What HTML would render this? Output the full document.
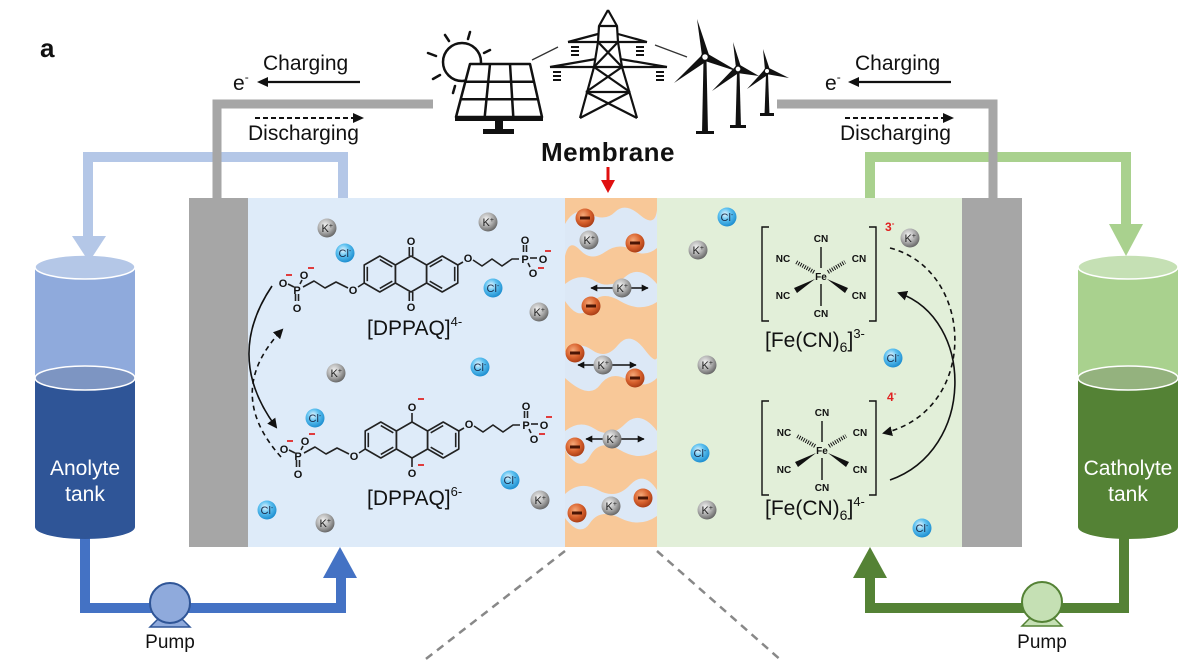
<!DOCTYPE html>
<html><head><meta charset="utf-8"><style>
html,body{margin:0;padding:0;background:#fff;}
svg{display:block;}
text{font-family:"Liberation Sans",Arial,sans-serif;}
.ik{font-size:11px;fill:#222;}
.icl{font-size:11px;fill:#1a2b4a;}
.at{font-size:11px;fill:#111;font-weight:bold;}
.cn{font-size:10px;font-weight:bold;fill:#111;text-anchor:middle;}
.bond{stroke:#222;stroke-width:1.6;fill:none;stroke-linejoin:round;}
.rm{stroke:#e02828;stroke-width:1.8;}
</style></head><body>
<svg width="1200" height="662" viewBox="0 0 1200 662" xmlns="http://www.w3.org/2000/svg">
<defs>
<radialGradient id="gK" cx="0.4" cy="0.35" r="0.7"><stop offset="0" stop-color="#f2f2f2"/><stop offset="0.5" stop-color="#b3b3b3"/><stop offset="1" stop-color="#5e5e5e"/></radialGradient>
<radialGradient id="gCl" cx="0.4" cy="0.35" r="0.7"><stop offset="0" stop-color="#e4f6ff"/><stop offset="0.45" stop-color="#5cc0f0"/><stop offset="1" stop-color="#1688cc"/></radialGradient>
<radialGradient id="gM" cx="0.4" cy="0.35" r="0.7"><stop offset="0" stop-color="#f5a878"/><stop offset="0.55" stop-color="#d8622e"/><stop offset="1" stop-color="#a33812"/></radialGradient>
<marker id="ah" viewBox="0 0 10 10" refX="8" refY="5" markerWidth="10" markerHeight="10" markerUnits="userSpaceOnUse" orient="auto"><path d="M0,0 L10,5 L0,10 z" fill="#111"/></marker>
<marker id="ah2" viewBox="0 0 10 10" refX="9" refY="5" markerWidth="7" markerHeight="7" markerUnits="userSpaceOnUse" orient="auto-start-reverse"><path d="M0,0 L10,5 L0,10 z" fill="#111"/></marker>
</defs>

<!-- label a -->
<text x="40" y="57" font-size="26" font-weight="bold" fill="#111">a</text>

<!-- charging texts left -->
<text x="263" y="70" font-size="21" fill="#111">Charging</text>
<text x="233" y="90" font-size="21" fill="#111">e<tspan font-size="12" dy="-9">-</tspan></text>
<line x1="360" y1="82" x2="262" y2="82" stroke="#111" stroke-width="2.2"/>
<path d="M257,82 L268,77 L268,87 z" fill="#111"/>
<line x1="255" y1="118" x2="355" y2="118" stroke="#111" stroke-width="2" stroke-dasharray="5,3"/>
<path d="M364,118 L353,113 L353,123 z" fill="#111"/>
<text x="248" y="140" font-size="21" fill="#111">Discharging</text>

<!-- charging texts right -->
<text x="855" y="70" font-size="21" fill="#111">Charging</text>
<text x="825" y="90" font-size="21" fill="#111">e<tspan font-size="12" dy="-9">-</tspan></text>
<line x1="951" y1="82" x2="853" y2="82" stroke="#111" stroke-width="2.2"/>
<path d="M848,82 L859,77 L859,87 z" fill="#111"/>
<line x1="845" y1="118" x2="945" y2="118" stroke="#111" stroke-width="2" stroke-dasharray="5,3"/>
<path d="M954,118 L943,113 L943,123 z" fill="#111"/>
<text x="840" y="140" font-size="21" fill="#111">Discharging</text>

<!-- light pipes -->
<path d="M88,237 L88,157 L343,157 L343,198" stroke="#b4c7e7" stroke-width="10" fill="none"/>
<path d="M870,198 L870,157 L1126,157 L1126,226" stroke="#a9d18e" stroke-width="10" fill="none"/>

<!-- grey wires -->
<path d="M433,104 L217,104 L217,198" stroke="#a6a6a6" stroke-width="9" fill="none"/>
<path d="M777,104 L993,104 L993,198" stroke="#a6a6a6" stroke-width="9" fill="none"/>

<!-- dark pipes -->
<path d="M85,537 L85,608 L341,608 L341,576" stroke="#4472c4" stroke-width="10" fill="none"/>
<path d="M323,578 L357,578 L340,547 z" fill="#4472c4"/>
<path d="M1124,537 L1124,608 L870,608 L870,576" stroke="#548235" stroke-width="10" fill="none"/>
<path d="M853,578 L887,578 L870,547 z" fill="#548235"/>

<!-- left tank -->
<path d="M35,378 L35,527 A50,12 0 0 0 135,527 L135,378 z" fill="#2f5597"/>
<rect x="35" y="267" width="100" height="111" fill="#8faadc"/>
<ellipse cx="85" cy="378" rx="50" ry="12" fill="#7d95c2" stroke="#fff" stroke-width="1.5"/>
<ellipse cx="85" cy="267" rx="50" ry="12" fill="#b4c7e7" stroke="#fff" stroke-width="1.5"/>
<path d="M72,236 L106,236 L89,262 z" fill="#b4c7e7"/>
<text x="85" y="475" font-size="21" fill="#fff" text-anchor="middle">Anolyte</text>
<text x="85" y="501" font-size="21" fill="#fff" text-anchor="middle">tank</text>

<!-- right tank -->
<path d="M1078,378 L1078,527 A50,12 0 0 0 1178,527 L1178,378 z" fill="#548235"/>
<rect x="1078" y="267" width="100" height="111" fill="#a9d18e"/>
<ellipse cx="1128" cy="378" rx="50" ry="12" fill="#94b27e" stroke="#fff" stroke-width="1.5"/>
<ellipse cx="1128" cy="267" rx="50" ry="12" fill="#c5e0b4" stroke="#fff" stroke-width="1.5"/>
<path d="M1109,224 L1143,224 L1126,256 z" fill="#a9d18e"/>
<text x="1128" y="475" font-size="21" fill="#fff" text-anchor="middle">Catholyte</text>
<text x="1128" y="501" font-size="21" fill="#fff" text-anchor="middle">tank</text>

<!-- pumps -->
<path d="M160,617 L180,617 L190,627 L150,627 z" fill="#8faadc" stroke="#2f5597" stroke-width="1.5"/>
<circle cx="170" cy="603" r="20" fill="#8faadc" stroke="#2f5597" stroke-width="2"/>
<text x="170" y="648" font-size="19" fill="#111" text-anchor="middle">Pump</text>
<path d="M1032,616 L1052,616 L1062,626 L1022,626 z" fill="#c5e0b4" stroke="#548235" stroke-width="1.5"/>
<circle cx="1042" cy="602" r="20" fill="#c5e0b4" stroke="#548235" stroke-width="2"/>
<text x="1042" y="648" font-size="19" fill="#111" text-anchor="middle">Pump</text>

<!-- cell -->
<rect x="248" y="198" width="317" height="349" fill="#deebf9"/>
<rect x="565" y="198" width="92" height="349" fill="#f8c898"/>
<rect x="657" y="198" width="305" height="349" fill="#e2efd9"/>
<rect x="189" y="198" width="59" height="349" fill="#a6a6a6"/>
<rect x="962" y="198" width="60" height="349" fill="#a6a6a6"/>

<!-- membrane channels -->
<g fill="#dce8f6">
<path d="M565,224 Q575,206 590,214 T615,212 T640,215 T657,210 L657,248 Q645,258 632,250 T605,252 T580,250 T565,256 Z"/>
<path d="M565,284 Q580,272 595,281 T625,277 T657,284 L657,302 Q640,313 620,301 T590,306 T565,301 Z"/>
<path d="M565,352 Q578,340 592,350 T618,345 T645,350 T657,348 L657,378 Q645,390 628,380 T600,385 T565,378 Z"/>
<path d="M565,431 Q580,419 595,429 T625,424 T657,431 L657,450 Q640,462 620,450 T590,456 T565,450 Z"/>
<path d="M565,494 Q580,480 598,490 T630,485 T657,490 L657,516 Q640,528 620,518 T590,523 T565,518 Z"/>
</g>

<!-- dashed zoom lines -->
<line x1="565" y1="551" x2="422" y2="662" stroke="#888" stroke-width="2.5" stroke-dasharray="8,6"/>
<line x1="657" y1="551" x2="783" y2="662" stroke="#888" stroke-width="2.5" stroke-dasharray="8,6"/>

<!-- membrane label -->
<text x="608" y="161" font-size="26" font-weight="bold" fill="#111" text-anchor="middle" letter-spacing="0.5">Membrane</text>
<line x1="608" y1="167" x2="608" y2="182" stroke="#e01010" stroke-width="3"/>
<path d="M601,180 L615,180 L608,193 z" fill="#e01010"/>

<!-- top icons: sun -->
<g stroke="#111" stroke-width="2.5" fill="none" stroke-linecap="round">
<circle cx="462" cy="62" r="19" fill="#fff"/>
<line x1="445" y1="35" x2="449" y2="41"/>
<line x1="470" y1="32" x2="468" y2="39"/>
<line x1="428" y1="53" x2="436" y2="56"/>
<line x1="433" y1="79" x2="440" y2="75"/>
<line x1="453" y1="93" x2="455" y2="86"/>
<line x1="490" y1="50" x2="484" y2="53"/>
</g>
<!-- solar panel -->
<g stroke="#111" stroke-width="2.5" fill="none" stroke-linejoin="round">
<path d="M470,64 L530,64 L542,117 L456,117 z" fill="#fff"/>
<line x1="490" y1="64" x2="484.7" y2="117"/>
<line x1="510" y1="64" x2="513.3" y2="117"/>
<line x1="465.3" y1="81.7" x2="534" y2="81.7"/>
<line x1="460.7" y1="99.3" x2="538" y2="99.3"/>
</g>
<rect x="455" y="116" width="88" height="5" fill="#111"/>
<rect x="495" y="120" width="8" height="11" fill="#111"/>
<rect x="483" y="129" width="31" height="5" fill="#111"/>
<line x1="532" y1="60" x2="558" y2="47" stroke="#333" stroke-width="1.3"/>
<line x1="655" y1="45" x2="687" y2="57" stroke="#333" stroke-width="1.3"/>

<!-- tower -->
<g stroke="#111" stroke-width="2.2" fill="none" stroke-linejoin="round">
<path d="M608,10 L599,26 L598,42 L594,67 L580,118"/>
<path d="M608,10 L617,26 L618,42 L622,67 L637,118"/>
<line x1="599" y1="26" x2="617" y2="26"/>
<path d="M568,42 L647,42 M598,34 L568,42 M618,34 L647,42"/>
<path d="M550,67 L667,67 M596,59 L550,67 M620,59 L667,67"/>
<line x1="598" y1="42" x2="622" y2="67"/>
<line x1="618" y1="42" x2="594" y2="67"/>
<line x1="594" y1="67" x2="630" y2="92"/>
<line x1="622" y1="67" x2="586" y2="92"/>
<line x1="586" y1="92" x2="630" y2="92"/>
<line x1="586" y1="92" x2="637" y2="118"/>
<line x1="630" y1="92" x2="580" y2="118"/>
</g>
<g fill="#111">
<rect x="571" y="46" width="8" height="2"/><rect x="571" y="50" width="8" height="2"/><rect x="571" y="54" width="8" height="2"/>
<rect x="636" y="46" width="8" height="2"/><rect x="636" y="50" width="8" height="2"/><rect x="636" y="54" width="8" height="2"/>
<rect x="553" y="71" width="8" height="2"/><rect x="553" y="75" width="8" height="2"/><rect x="553" y="79" width="8" height="2"/>
<rect x="656" y="71" width="8" height="2"/><rect x="656" y="75" width="8" height="2"/><rect x="656" y="79" width="8" height="2"/>
</g>

<!-- wind turbines -->
<g fill="#111">
<polygon points="702,56 697,19 709,55"/>
<polygon points="703,54 674,83 707,61"/>
<polygon points="708,54 739,72 705,61"/>
<polygon points="703.5,60 706.5,60 708,133 702,133"/>
<rect x="696" y="131" width="18" height="3"/>
<polygon points="736,68 733,42 741,67"/>
<polygon points="736,66 712,91 740,72"/>
<polygon points="740,65 759,76 737,73"/>
<polygon points="737,72 739.5,72 741,127 735.5,127"/>
<rect x="730" y="125" width="16" height="3"/>
<polygon points="765,70 763,49 770,70"/>
<polygon points="765,69 747,89 769,74"/>
<polygon points="769,68 789,78 766,74"/>
<polygon points="766,74 768,74 769.5,115 764.5,115"/>
<rect x="760" y="113" width="14" height="3"/>
</g>
<circle cx="705" cy="57" r="3.5" fill="#fff" stroke="#111" stroke-width="1.5"/>
<circle cx="738" cy="69" r="3" fill="#fff" stroke="#111" stroke-width="1.3"/>
<circle cx="767" cy="71" r="2.6" fill="#fff" stroke="#111" stroke-width="1.2"/>

<!-- DPPAQ 4- -->
<g>
<g class="bond">
<polygon points="411,256 426.6,265 426.6,283 411,292 395.4,283 395.4,265"/>
<polygon points="379.8,256 395.4,265 395.4,283 379.8,292 364.2,283 364.2,265"/>
<polygon points="442.2,256 457.8,265 457.8,283 442.2,292 426.6,283 426.6,265"/>
<line x1="379.8" y1="259.6" x2="392.3" y2="266.8"/>
<line x1="392.3" y1="281.2" x2="379.8" y2="288.4"/>
<line x1="367.3" y1="281.2" x2="367.3" y2="266.8"/>
<line x1="454.7" y1="266.8" x2="454.7" y2="281.2"/>
<line x1="442.2" y1="288.4" x2="429.7" y2="281.2"/>
<line x1="429.7" y1="266.8" x2="442.2" y2="259.6"/>
<line x1="409.3" y1="256" x2="409.3" y2="247"/><line x1="412.7" y1="256" x2="412.7" y2="247"/>
<line x1="409.3" y1="292" x2="409.3" y2="301"/><line x1="412.7" y1="292" x2="412.7" y2="301"/>
<line x1="364.2" y1="283" x2="358" y2="287"/>
<polyline points="348,288 336,282 325,288 314,281 303,287"/>
<line x1="294" y1="287" x2="288" y2="284"/>
<line x1="300" y1="284" x2="302" y2="280"/>
<line x1="295.5" y1="294" x2="295.5" y2="301"/><line x1="298.5" y1="294" x2="298.5" y2="301"/>
<line x1="457.8" y1="265" x2="463" y2="262"/>
<polyline points="473,260 482,266 492,259 502,266 512,259 519,259"/>
<line x1="523.5" y1="252" x2="523.5" y2="245"/><line x1="526.5" y1="252" x2="526.5" y2="245"/>
<line x1="530" y1="258" x2="537" y2="258"/>
<line x1="528" y1="263" x2="530" y2="267"/>
</g>
<text class="at" x="411" y="245" text-anchor="middle">O</text>
<text class="at" x="411" y="311" text-anchor="middle">O</text>
<text class="at" x="353" y="294" text-anchor="middle">O</text>
<text class="at" x="297" y="294" text-anchor="middle">P</text>
<text class="at" x="283" y="287" text-anchor="middle">O</text>
<text class="at" x="304" y="279" text-anchor="middle">O</text>
<text class="at" x="297" y="312" text-anchor="middle">O</text>
<line class="rm" x1="286" y1="275" x2="292" y2="275"/>
<line class="rm" x1="308" y1="268" x2="314" y2="268"/>
<text class="at" x="468" y="262" text-anchor="middle">O</text>
<text class="at" x="525" y="263" text-anchor="middle">P</text>
<text class="at" x="525" y="244" text-anchor="middle">O</text>
<text class="at" x="543" y="263" text-anchor="middle">O</text>
<text class="at" x="533" y="277" text-anchor="middle">O</text>
<line class="rm" x1="545" y1="251" x2="551" y2="251"/>
<line class="rm" x1="538" y1="268" x2="544" y2="268"/>
</g>
<text x="367" y="335" font-size="21" fill="#111">[DPPAQ]<tspan font-size="13" dy="-9">4-</tspan></text>

<!-- DPPAQ 6- -->
<g transform="translate(1,166)">
<g class="bond">
<polygon points="411,256 426.6,265 426.6,283 411,292 395.4,283 395.4,265"/>
<polygon points="379.8,256 395.4,265 395.4,283 379.8,292 364.2,283 364.2,265"/>
<polygon points="442.2,256 457.8,265 457.8,283 442.2,292 426.6,283 426.6,265"/>
<line x1="379.8" y1="259.6" x2="392.3" y2="266.8"/>
<line x1="392.3" y1="281.2" x2="379.8" y2="288.4"/>
<line x1="367.3" y1="281.2" x2="367.3" y2="266.8"/>
<line x1="454.7" y1="266.8" x2="454.7" y2="281.2"/>
<line x1="442.2" y1="288.4" x2="429.7" y2="281.2"/>
<line x1="429.7" y1="266.8" x2="442.2" y2="259.6"/>
<line x1="411" y1="256" x2="411" y2="247"/>
<line x1="411" y1="292" x2="411" y2="301"/>
<line x1="364.2" y1="283" x2="358" y2="287"/>
<polyline points="348,288 336,282 325,288 314,281 303,287"/>
<line x1="294" y1="287" x2="288" y2="284"/>
<line x1="300" y1="284" x2="302" y2="280"/>
<line x1="295.5" y1="294" x2="295.5" y2="301"/><line x1="298.5" y1="294" x2="298.5" y2="301"/>
<line x1="457.8" y1="265" x2="463" y2="262"/>
<polyline points="473,260 482,266 492,259 502,266 512,259 519,259"/>
<line x1="523.5" y1="252" x2="523.5" y2="245"/><line x1="526.5" y1="252" x2="526.5" y2="245"/>
<line x1="530" y1="258" x2="537" y2="258"/>
<line x1="528" y1="263" x2="530" y2="267"/>
</g>
<text class="at" x="411" y="245" text-anchor="middle">O</text>
<text class="at" x="411" y="311" text-anchor="middle">O</text>
<line class="rm" x1="417" y1="233" x2="423" y2="233"/>
<line class="rm" x1="417" y1="299" x2="423" y2="299"/>
<text class="at" x="353" y="294" text-anchor="middle">O</text>
<text class="at" x="297" y="294" text-anchor="middle">P</text>
<text class="at" x="283" y="287" text-anchor="middle">O</text>
<text class="at" x="304" y="279" text-anchor="middle">O</text>
<text class="at" x="297" y="312" text-anchor="middle">O</text>
<line class="rm" x1="286" y1="275" x2="292" y2="275"/>
<line class="rm" x1="308" y1="268" x2="314" y2="268"/>
<text class="at" x="468" y="262" text-anchor="middle">O</text>
<text class="at" x="525" y="263" text-anchor="middle">P</text>
<text class="at" x="525" y="244" text-anchor="middle">O</text>
<text class="at" x="543" y="263" text-anchor="middle">O</text>
<text class="at" x="533" y="277" text-anchor="middle">O</text>
<line class="rm" x1="545" y1="251" x2="551" y2="251"/>
<line class="rm" x1="538" y1="268" x2="544" y2="268"/>
</g>
<text x="367" y="505" font-size="21" fill="#111">[DPPAQ]<tspan font-size="13" dy="-9">6-</tspan></text>

<!-- left curved arrows -->
<path d="M272,286 Q224,357 276,427" stroke="#111" stroke-width="1.6" fill="none" marker-end="url(#ah)"/>
<path d="M281,457 Q223,392 282,330" stroke="#111" stroke-width="1.6" fill="none" stroke-dasharray="5,4" marker-end="url(#ah)"/>

<!-- right curved arrows -->
<path d="M890,248 C975,270 980,410 884,433" stroke="#111" stroke-width="1.6" fill="none" stroke-dasharray="5,4" marker-end="url(#ah)"/>
<path d="M890,480 C975,450 975,320 899,293" stroke="#111" stroke-width="1.6" fill="none" marker-end="url(#ah)"/>

<!-- Fe complex 3- -->
<g transform="translate(821,276)">
<g stroke="#111" stroke-width="1.4" fill="none">
<line x1="0" y1="-29" x2="0" y2="-8"/>
<line x1="0" y1="8" x2="0" y2="30"/>
<path d="M-52,-49 L-59,-49 L-59,45 L-52,45"/>
<path d="M48,-49 L55,-49 L55,45 L48,45"/>
<line x1="-7" y1="-4" x2="-25" y2="-14" stroke-width="4" stroke-dasharray="1,1.4"/>
<line x1="7" y1="-4" x2="24" y2="-14" stroke-width="4" stroke-dasharray="1,1.4"/>
</g>
<polygon points="-6,3 -27,12 -24,17" fill="#111"/>
<polygon points="6,3 27,12 24,17" fill="#111"/>
<text class="cn" x="0" y="4">Fe</text>
<text class="cn" x="0" y="-34">CN</text>
<text class="cn" x="0" y="41">CN</text>
<text class="cn" x="-38" y="-14">NC</text>
<text class="cn" x="38" y="-14">CN</text>
<text class="cn" x="-38" y="23">NC</text>
<text class="cn" x="38" y="23">CN</text>
<text x="64" y="-45" font-size="12" font-weight="bold" fill="#e02020">3<tspan font-size="8" dy="-5">-</tspan></text>
</g>
<text x="765" y="347" font-size="21" fill="#111">[Fe(CN)<tspan font-size="14" dy="5">6</tspan><tspan dy="-5">]</tspan><tspan font-size="13" dy="-9">3-</tspan></text>

<!-- Fe complex 4- -->
<g transform="translate(822,450)">
<g stroke="#111" stroke-width="1.4" fill="none">
<line x1="0" y1="-29" x2="0" y2="-8"/>
<line x1="0" y1="8" x2="0" y2="30"/>
<path d="M-53,-49 L-60,-49 L-60,45 L-53,45"/>
<path d="M47,-49 L54,-49 L54,45 L47,45"/>
<line x1="-7" y1="-4" x2="-25" y2="-14" stroke-width="4" stroke-dasharray="1,1.4"/>
<line x1="7" y1="-4" x2="24" y2="-14" stroke-width="4" stroke-dasharray="1,1.4"/>
</g>
<polygon points="-6,3 -27,12 -24,17" fill="#111"/>
<polygon points="6,3 27,12 24,17" fill="#111"/>
<text class="cn" x="0" y="4">Fe</text>
<text class="cn" x="0" y="-34">CN</text>
<text class="cn" x="0" y="41">CN</text>
<text class="cn" x="-38" y="-14">NC</text>
<text class="cn" x="38" y="-14">CN</text>
<text class="cn" x="-38" y="23">NC</text>
<text class="cn" x="38" y="23">CN</text>
<text x="65" y="-49" font-size="12" font-weight="bold" fill="#e02020">4<tspan font-size="8" dy="-5">-</tspan></text>
</g>
<text x="765" y="515" font-size="21" fill="#111">[Fe(CN)<tspan font-size="14" dy="5">6</tspan><tspan dy="-5">]</tspan><tspan font-size="13" dy="-9">4-</tspan></text>

<!-- membrane arrows -->
<line x1="591" y1="288" x2="648" y2="288" stroke="#111" stroke-width="1.6" marker-start="url(#ah2)" marker-end="url(#ah2)"/>
<line x1="578" y1="365" x2="636" y2="365" stroke="#111" stroke-width="1.6" marker-start="url(#ah2)" marker-end="url(#ah2)"/>
<line x1="586" y1="439" x2="644" y2="439" stroke="#111" stroke-width="1.6" marker-start="url(#ah2)" marker-end="url(#ah2)"/>

<!-- minus ions in membrane -->
<g transform="translate(585,218)"><circle r="9.5" fill="url(#gM)"/><rect x="-5" y="-1.5" width="10" height="3" fill="#4a1505"/></g>
<g transform="translate(635,243)"><circle r="9.5" fill="url(#gM)"/><rect x="-5" y="-1.5" width="10" height="3" fill="#4a1505"/></g>
<g transform="translate(591,306)"><circle r="9.5" fill="url(#gM)"/><rect x="-5" y="-1.5" width="10" height="3" fill="#4a1505"/></g>
<g transform="translate(575,353)"><circle r="9.5" fill="url(#gM)"/><rect x="-5" y="-1.5" width="10" height="3" fill="#4a1505"/></g>
<g transform="translate(635,378)"><circle r="9.5" fill="url(#gM)"/><rect x="-5" y="-1.5" width="10" height="3" fill="#4a1505"/></g>
<g transform="translate(575,447)"><circle r="9.5" fill="url(#gM)"/><rect x="-5" y="-1.5" width="10" height="3" fill="#4a1505"/></g>
<g transform="translate(643,498)"><circle r="9.5" fill="url(#gM)"/><rect x="-5" y="-1.5" width="10" height="3" fill="#4a1505"/></g>
<g transform="translate(577,513)"><circle r="9.5" fill="url(#gM)"/><rect x="-5" y="-1.5" width="10" height="3" fill="#4a1505"/></g>

<!-- K+ ions -->
<g transform="translate(589,240)"><circle r="9.5" fill="url(#gK)"/><text class="ik" x="-5.5" y="4">K<tspan font-size="7" dy="-4">+</tspan></text></g>
<g transform="translate(622,288)"><circle r="9.5" fill="url(#gK)"/><text class="ik" x="-5.5" y="4">K<tspan font-size="7" dy="-4">+</tspan></text></g>
<g transform="translate(603,365)"><circle r="9.5" fill="url(#gK)"/><text class="ik" x="-5.5" y="4">K<tspan font-size="7" dy="-4">+</tspan></text></g>
<g transform="translate(612,439)"><circle r="9.5" fill="url(#gK)"/><text class="ik" x="-5.5" y="4">K<tspan font-size="7" dy="-4">+</tspan></text></g>
<g transform="translate(611,506)"><circle r="9.5" fill="url(#gK)"/><text class="ik" x="-5.5" y="4">K<tspan font-size="7" dy="-4">+</tspan></text></g>
<g transform="translate(327,228)"><circle r="9.5" fill="url(#gK)"/><text class="ik" x="-5.5" y="4">K<tspan font-size="7" dy="-4">+</tspan></text></g>
<g transform="translate(488,222)"><circle r="9.5" fill="url(#gK)"/><text class="ik" x="-5.5" y="4">K<tspan font-size="7" dy="-4">+</tspan></text></g>
<g transform="translate(539,312)"><circle r="9.5" fill="url(#gK)"/><text class="ik" x="-5.5" y="4">K<tspan font-size="7" dy="-4">+</tspan></text></g>
<g transform="translate(336,373)"><circle r="9.5" fill="url(#gK)"/><text class="ik" x="-5.5" y="4">K<tspan font-size="7" dy="-4">+</tspan></text></g>
<g transform="translate(540,500)"><circle r="9.5" fill="url(#gK)"/><text class="ik" x="-5.5" y="4">K<tspan font-size="7" dy="-4">+</tspan></text></g>
<g transform="translate(325,523)"><circle r="9.5" fill="url(#gK)"/><text class="ik" x="-5.5" y="4">K<tspan font-size="7" dy="-4">+</tspan></text></g>
<g transform="translate(698,250)"><circle r="9.5" fill="url(#gK)"/><text class="ik" x="-5.5" y="4">K<tspan font-size="7" dy="-4">+</tspan></text></g>
<g transform="translate(910,238)"><circle r="9.5" fill="url(#gK)"/><text class="ik" x="-5.5" y="4">K<tspan font-size="7" dy="-4">+</tspan></text></g>
<g transform="translate(707,365)"><circle r="9.5" fill="url(#gK)"/><text class="ik" x="-5.5" y="4">K<tspan font-size="7" dy="-4">+</tspan></text></g>
<g transform="translate(707,510)"><circle r="9.5" fill="url(#gK)"/><text class="ik" x="-5.5" y="4">K<tspan font-size="7" dy="-4">+</tspan></text></g>

<!-- Cl- ions -->
<g transform="translate(345,253)"><circle r="9.5" fill="url(#gCl)"/><text class="icl" x="-6.5" y="4">Cl<tspan font-size="7" dy="-4">-</tspan></text></g>
<g transform="translate(493,288)"><circle r="9.5" fill="url(#gCl)"/><text class="icl" x="-6.5" y="4">Cl<tspan font-size="7" dy="-4">-</tspan></text></g>
<g transform="translate(480,367)"><circle r="9.5" fill="url(#gCl)"/><text class="icl" x="-6.5" y="4">Cl<tspan font-size="7" dy="-4">-</tspan></text></g>
<g transform="translate(315,418)"><circle r="9.5" fill="url(#gCl)"/><text class="icl" x="-6.5" y="4">Cl<tspan font-size="7" dy="-4">-</tspan></text></g>
<g transform="translate(510,480)"><circle r="9.5" fill="url(#gCl)"/><text class="icl" x="-6.5" y="4">Cl<tspan font-size="7" dy="-4">-</tspan></text></g>
<g transform="translate(267,510)"><circle r="9.5" fill="url(#gCl)"/><text class="icl" x="-6.5" y="4">Cl<tspan font-size="7" dy="-4">-</tspan></text></g>
<g transform="translate(727,217)"><circle r="9.5" fill="url(#gCl)"/><text class="icl" x="-6.5" y="4">Cl<tspan font-size="7" dy="-4">-</tspan></text></g>
<g transform="translate(893,358)"><circle r="9.5" fill="url(#gCl)"/><text class="icl" x="-6.5" y="4">Cl<tspan font-size="7" dy="-4">-</tspan></text></g>
<g transform="translate(700,453)"><circle r="9.5" fill="url(#gCl)"/><text class="icl" x="-6.5" y="4">Cl<tspan font-size="7" dy="-4">-</tspan></text></g>
<g transform="translate(922,528)"><circle r="9.5" fill="url(#gCl)"/><text class="icl" x="-6.5" y="4">Cl<tspan font-size="7" dy="-4">-</tspan></text></g>
</svg>
</body></html>
